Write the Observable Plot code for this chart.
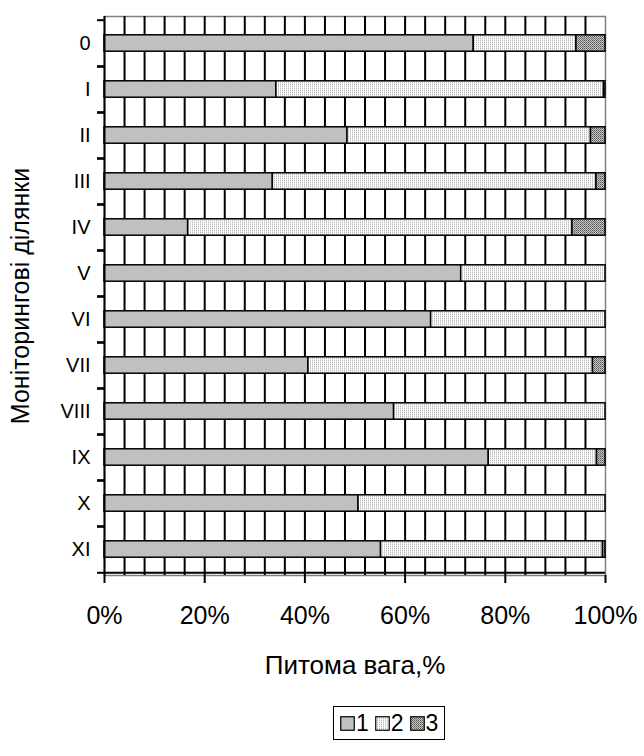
<!DOCTYPE html>
<html>
<head>
<meta charset="utf-8">
<script src="https://cdn.jsdelivr.net/npm/d3@7"></script>
<script src="https://cdn.jsdelivr.net/npm/@observablehq/plot@0.6"></script>
<style>
  html, body { margin: 0; padding: 0; background: #fff; }
  body { width: 644px; height: 756px; overflow: hidden; font-family: "Liberation Sans", Arial, sans-serif; }
  #chart svg { display: block; }
  #legend { display: inline-flex; align-items: center; border: 1.5px solid #000; padding: 3px 6px 3px 6px; margin-left: 333px; margin-top: 16px; font-size: 23px; line-height: 26px; color: #000; }
  #legend .item { display: inline-flex; align-items: center; margin-right: 6px; }
  #legend .item:last-child { margin-right: 0; }
  #legend svg { margin-right: 1px; }
</style>
</head>
<body>
<svg width="0" height="0" style="position:absolute">
  <defs>
    <pattern id="p2" width="2" height="2" patternUnits="userSpaceOnUse">
      <rect width="2" height="2" fill="#ffffff"/>
      <rect x="0" y="0" width="1" height="1" fill="#bdbdbd"/>
      <rect x="0" y="1" width="1" height="1" fill="#e2e2e2"/>
    </pattern>
    <pattern id="p3" width="2" height="2" patternUnits="userSpaceOnUse">
      <rect width="2" height="2" fill="#c8c8c8"/>
      <rect x="0" y="0" width="1" height="1" fill="#555"/>
      <rect x="1" y="1" width="1" height="1" fill="#777"/>
    </pattern>
  </defs>
</svg>
<div id="chart"></div>
<div id="legend"></div>
<script>
const categories = ["0", "I", "II", "III", "IV", "V", "VI", "VII", "VIII", "IX", "X", "XI"];
const seriesNames = ["1", "2", "3"];
const series1 = [73.7, 34.3, 48.5, 33.6, 16.7, 71.2, 65.2, 40.7, 57.8, 76.7, 50.7, 55.2];
const series2 = [20.5, 65.4, 48.6, 64.6, 76.7, 28.8, 34.8, 56.8, 42.2, 21.6, 49.3, 44.3];
const series3 = [5.8, 0.3, 2.9, 1.8, 6.6, 0, 0, 2.5, 0, 1.7, 0, 0.5];
const xTicks = [0, 20, 40, 60, 80, 100];
const fills = ["#c0c0c0", "url(#p2)", "url(#p3)"];

const allSeries = [series1, series2, series3];
const data = [];
categories.forEach((c, i) => {
  allSeries.forEach((s, k) => {
    if (s[i] > 0) data.push({cat: c, series: seriesNames[k], value: s[i]});
  });
});

const W = 644, H = 690, mT = 16, mB = 115, mL = 104, mR = 39;
const step = (H - mT - mB) / categories.length;
const barH = 17;
const inset = (step - barH) / 2;

const chart = Plot.plot({
  width: W,
  height: H,
  marginTop: mT,
  marginBottom: mB,
  marginLeft: mL,
  marginRight: mR,
  style: {fontFamily: "'Liberation Sans', Arial, sans-serif", fontSize: "19px", color: "#000", background: "#fff"},
  x: {domain: [0, 100], labelArrow: "none"},
  y: {domain: categories, padding: 0},
  color: {type: "ordinal", domain: seriesNames, range: fills},
  marks: [
    Plot.frame({stroke: "#808080", strokeWidth: 1.5}),
    Plot.gridX(d3.range(4, 100, 4), {stroke: "#000", strokeOpacity: 1, strokeWidth: 2}),
    Plot.barX(data, Plot.stackX({x: "value", y: "cat", fill: "series", order: null, stroke: "#000", strokeWidth: 1.5, insetTop: inset, insetBottom: inset})),
    Plot.ruleX([0], {stroke: "#000", strokeWidth: 2}),
    Plot.ruleY([categories[categories.length - 1]], {dy: step / 2, stroke: "#000", strokeWidth: 2}),
    Plot.axisY({text: null, tickSize: 7, dy: -step / 2, strokeWidth: 2, label: null}),
    Plot.axisY({text: null, tickSize: 7, dy: step / 2, strokeWidth: 2, label: null}),
    Plot.axisY({tickSize: 0, tickPadding: 14, fontSize: 20, label: null}),
    Plot.axisY({text: null, tickSize: 0, fontSize: 25, label: "Моніторингові ділянки", labelAnchor: "center", labelOffset: 93}),
    Plot.axisX({ticks: xTicks, tickFormat: d => d + "%", tickSize: 8, tickPadding: 23, strokeWidth: 2, fontSize: 25, label: null}),
    Plot.axisX({ticks: [], text: null, tickSize: 0, fontSize: 26, label: "Питома вага,%", labelArrow: "none", labelAnchor: "center", labelOffset: 98})
  ]
});
document.getElementById("chart").appendChild(chart);

const legend = document.getElementById("legend");
seriesNames.forEach((name, k) => {
  const item = document.createElement("span");
  item.className = "item";
  item.innerHTML = `<svg width="15" height="15"><rect x="0.75" y="0.75" width="13.5" height="13.5" fill="${fills[k]}" stroke="#000" stroke-width="1.2"/></svg><span>${name}</span>`;
  legend.appendChild(item);
});
</script>
</body>
</html>
